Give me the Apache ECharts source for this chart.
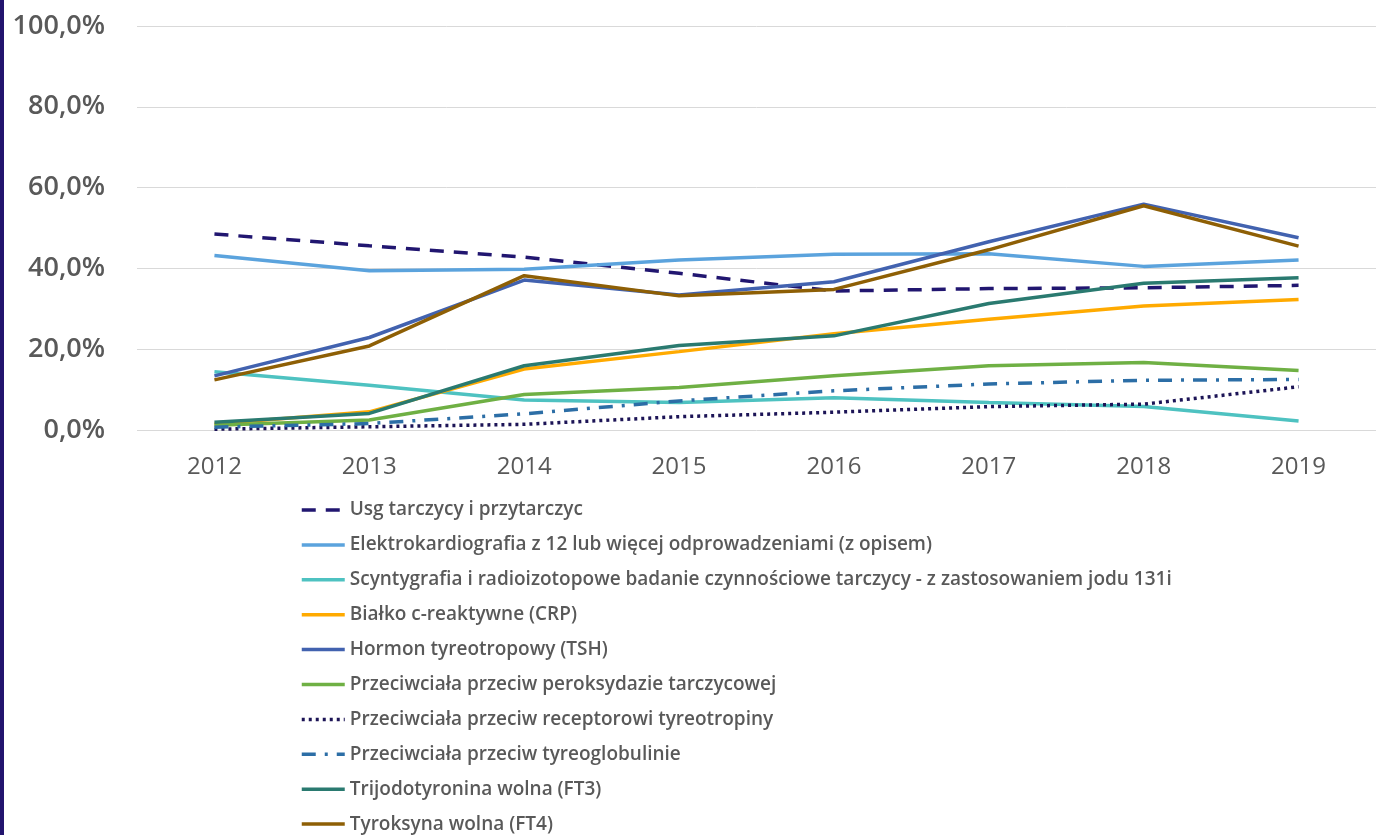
<!DOCTYPE html>
<html>
<head>
<meta charset="utf-8">
<script src="https://cdn.jsdelivr.net/npm/echarts@6/dist/echarts.min.js"></script>
<style>
  html, body { margin: 0; padding: 0; background: #fff; }
  #chart { width: 1376px; height: 835px; }
</style>
</head>
<body>
<div id="chart"></div>
<script>
// lata
const years = ['2012', '2013', '2014', '2015', '2016', '2017', '2018', '2019']

// wartości w procentach
const usg = [48.5, 45.6, 42.8, 38.8, 34.4, 35.0, 35.2, 35.8]
const ekg = [43.2, 39.4, 39.8, 42.1, 43.5, 43.6, 40.5, 42.1]
const scynt = [14.4, 11.1, 7.4, 6.8, 8.0, 6.8, 5.8, 2.2]
const crp = [1.5, 4.5, 15.1, 19.4, 23.8, 27.4, 30.7, 32.3]
const tsh = [13.4, 22.9, 37.1, 33.4, 36.7, 46.6, 55.9, 47.6]
const tpo = [1.2, 2.5, 8.8, 10.5, 13.4, 15.9, 16.7, 14.7]
const trab = [0.2, 0.8, 1.4, 3.3, 4.4, 5.8, 6.4, 10.7]
const tg = [0.7, 1.6, 4.0, 7.2, 9.7, 11.4, 12.3, 12.5]
const ft3 = [1.9, 4.1, 15.9, 20.9, 23.3, 31.3, 36.3, 37.7]
const ft4 = [12.4, 20.8, 38.2, 33.2, 34.8, 44.6, 55.5, 45.5]

const yTicks = [0, 20, 40, 60, 80, 100]

const myChart = echarts.init(document.getElementById('chart'))

function line(name, data, color, type) {
  return {
    name: name,
    type: 'line',
    data: data,
    symbol: 'none',
    lineStyle: { color: color, width: 3.5, type: type || 'solid', cap: 'butt' },
    itemStyle: { color: color },
    emphasis: { disabled: true }
  }
}

const option = {
  animation: false,
  graphic: [{
    type: 'rect',
    left: 0,
    top: 0,
    shape: { width: 4, height: 835 },
    style: { fill: '#22146E' }
  }],
  grid: {
    left: 137,
    top: 26,
    width: 1282,
    height: 404
  },
  legend: {
    orient: 'vertical',
    left: 300,
    top: 500,
    padding: 0,
    itemWidth: 43,
    itemHeight: 14,
    itemGap: 14.9,
    itemStyle: { opacity: 0 },
    lineStyle: { width: 3.5 },
    textStyle: {
      fontFamily: 'Open Sans',
      fontSize: 19,
      fontWeight: 600,
      color: '#595959',
      lineHeight: 20
    }
  },
  xAxis: {
    type: 'category',
    data: years,
    boundaryGap: true,
    axisLine: { show: false },
    axisTick: { show: false },
    axisLabel: {
      margin: 25,
      fontFamily: 'Open Sans',
      fontSize: 24,
      color: '#595959'
    }
  },
  yAxis: {
    type: 'value',
    min: yTicks[0],
    max: yTicks[yTicks.length - 1],
    interval: 20,
    axisLine: { show: false },
    axisTick: { show: false },
    splitLine: { lineStyle: { color: '#D9D9D9', width: 1 } },
    axisLabel: {
      margin: 32,
      fontFamily: 'Open Sans',
      fontWeight: 600,
      fontSize: 27,
      color: '#595959',
      formatter: function (v) { return v.toFixed(1).replace('.', ',') + '%' }
    }
  },
  series: [
    line('Usg tarczycy i przytarczyc', usg, '#211670', [14, 10]),
    line('Elektrokardiografia z 12 lub więcej odprowadzeniami (z opisem)', ekg, '#5BA3DD'),
    line('Scyntygrafia i radioizotopowe badanie czynnościowe tarczycy - z zastosowaniem jodu 131i', scynt, '#4EC2C1'),
    line('Białko c-reaktywne (CRP)', crp, '#FFAA00'),
    line('Hormon tyreotropowy (TSH)', tsh, '#4262AF'),
    line('Przeciwciała przeciw peroksydazie tarczycowej', tpo, '#6FB044'),
    line('Przeciwciała przeciw receptorowi tyreotropiny', trab, '#1C1456', [3, 4]),
    line('Przeciwciała przeciw tyreoglobulinie', tg, '#2C6EA6', [14, 9, 3, 9]),
    line('Trijodotyronina wolna (FT3)', ft3, '#2A7A70'),
    line('Tyroksyna wolna (FT4)', ft4, '#8E5F05')
  ]
}

myChart.setOption(option)
</script>
</body>
</html>
